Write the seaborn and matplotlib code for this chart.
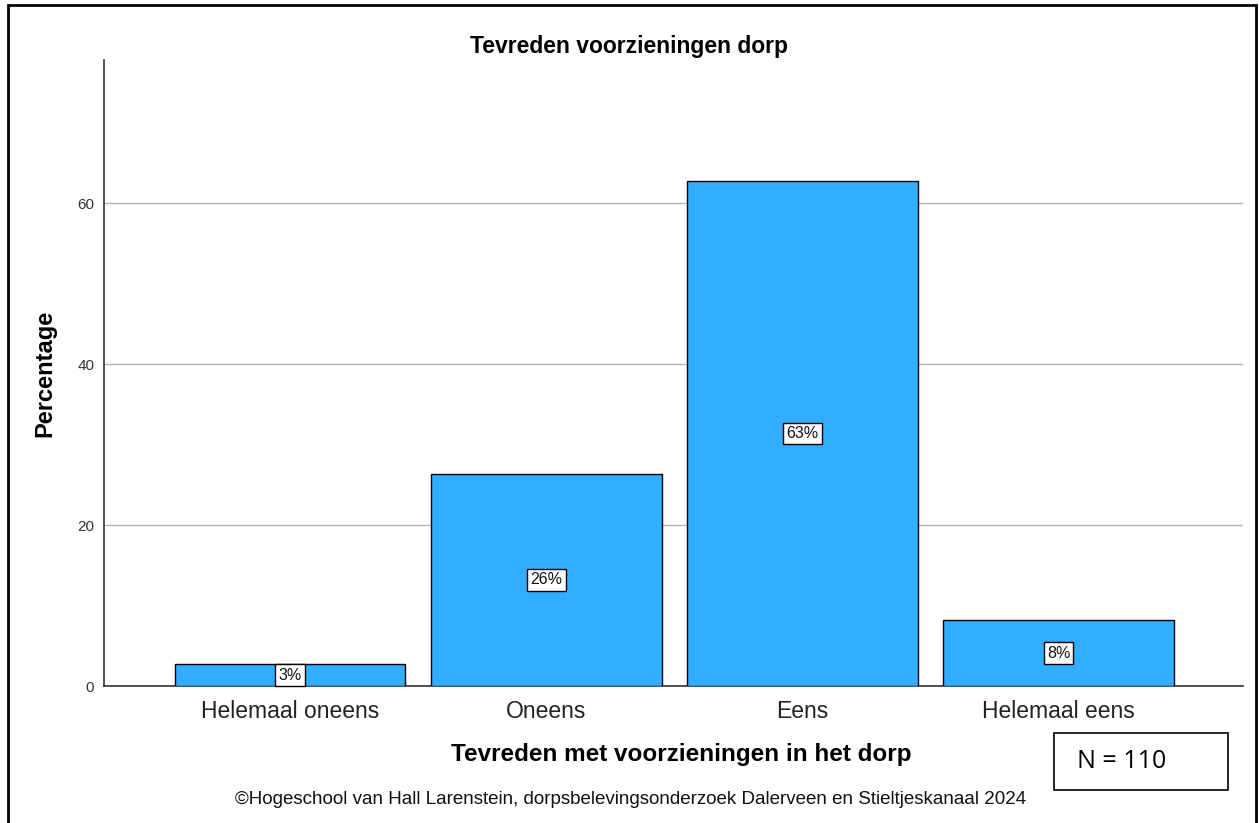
import matplotlib
matplotlib.use("Agg")
import matplotlib.pyplot as plt
import matplotlib.patches as mpatches
import seaborn as sns
import pandas as pd

categories = ["Helemaal oneens", "Oneens", "Eens", "Helemaal eens"]
counts = [3, 29, 69, 9]
total_n = 110
percentages = [c / total_n * 100 for c in counts]
bar_labels = ["3%", "26%", "63%", "8%"]
y_ticks = [0, 20, 40, 60]

df = pd.DataFrame({"Categorie": categories, "Percentage": percentages})

sns.set_style("white")
plt.rcParams["font.family"] = ["Liberation Sans", "DejaVu Sans"]
plt.rcParams["text.color"] = "black"

W, H = 1259, 823
fig = plt.figure(figsize=(W / 100, H / 100), dpi=100)
ax = fig.add_axes([104 / W, 1 - 686 / H, (1243 - 104) / W, (686 - 60) / H])

sns.barplot(data=df, x="Categorie", y="Percentage", order=categories,
            color="#33adff", saturation=1, width=0.9,
            edgecolor="black", linewidth=1.0, ax=ax, zorder=3)

for i, (val, lab) in enumerate(zip(percentages, bar_labels)):
    ax.text(i, val / 2, lab, ha="center", va="center", fontsize=11.5, zorder=5,
            color="#111111",
            bbox=dict(boxstyle="square,pad=0.2", fc="white", ec="black", lw=1.0))

ax.set_xlim(-0.727, 3.72)
ax.set_ylim(0, 77.8)
ax.set_yticks(y_ticks)
ax.yaxis.grid(True, color="#b4b4b4", linewidth=1.0, zorder=0)
ax.set_axisbelow(True)
ax.tick_params(axis="y", labelsize=11, length=0, pad=7, colors="#333333")
ax.tick_params(axis="x", labelsize=16.5, length=0, pad=10, colors="#222222")
for side in ["top", "right"]:
    ax.spines[side].set_visible(False)
for side in ["left", "bottom"]:
    ax.spines[side].set_color("#333333")
    ax.spines[side].set_linewidth(1.2)
ax.set_xlabel("")
ax.set_ylabel("")

fig.text(629 / W, 1 - 47 / H, "Tevreden voorzieningen dorp", ha="center",
         va="center", fontsize=16.5, fontweight="bold")
fig.text(681 / W, 1 - 754 / H, "Tevreden met voorzieningen in het dorp",
         ha="center", va="center", fontsize=17.5, fontweight="bold")
fig.text(45 / W, 1 - 373 / H, "Percentage", ha="center", va="center",
         rotation=90, fontsize=17, fontweight="bold")
fig.text(631 / W, 1 - 800 / H, "\u00a9Hogeschool van Hall Larenstein, dorpsbelevingsonderzoek "
         "Dalerveen en Stieltjeskanaal 2024", ha="center", va="center",
         fontsize=13.5, color="#111111")

# N box
fig.add_artist(mpatches.Rectangle((1054 / W, 1 - 790 / H), 174 / W, 57 / H,
                                  transform=fig.transFigure, fill=False,
                                  ec="black", lw=1.2))
fig.text(1122 / W, 1 - 762 / H, "N = 110", ha="center", va="center",
         fontsize=18, family=["Open Sans", "DejaVu Sans"])

# outer frame
fig.add_artist(mpatches.Rectangle((8 / W, -0.02), 1248 / W, 1.02 - 5 / H,
                                  transform=fig.transFigure, fill=False,
                                  ec="black", lw=2))

fig.savefig("out.png", dpi=100)
